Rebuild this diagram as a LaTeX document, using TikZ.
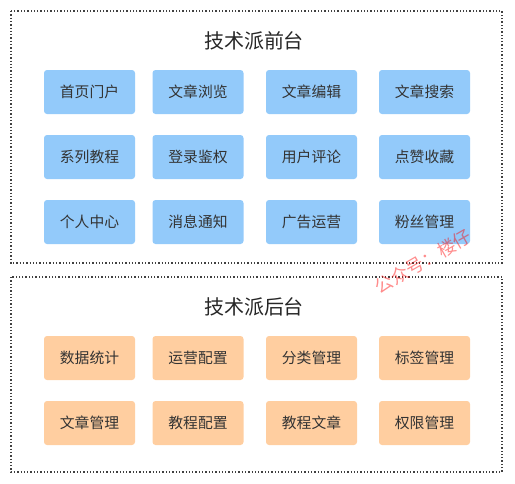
\documentclass[tikz,border=0pt]{standalone}
\usepackage{fontspec}
\setmainfont{Noto Sans CJK SC}
\begin{document}
\begin{tikzpicture}[x=1pt,y=-1pt,
  group/.style={draw=black!75,line width=1.3pt,dotted},
  item/.style={rounded corners=3pt,minimum width=91pt,minimum height=44pt,inner sep=0pt,text=black!80,font=\fontsize{14.8}{16}\selectfont},
  fe/.style={item,fill={rgb,255:red,147;green,202;blue,250}},
  be/.style={item,fill={rgb,255:red,255;green,206;blue,160}},
  ttl/.style={text=black!85,font=\fontsize{20}{22}\selectfont}]
\useasboundingbox (0,0) rectangle (515,483);
\draw[group] (11,11) rectangle (502,263);
\draw[group] (11,277) rectangle (502,472);
\node[ttl] (t1) at (254,41) {技术派前台};
\node[ttl] (t2) at (254,307) {技术派后台};
\node[fe] (a1) at (89.5,92) {首页门户};
\node[fe] (a2) at (198,92) {文章浏览};
\node[fe] (a3) at (311.5,92) {文章编辑};
\node[fe] (a4) at (424.5,92) {文章搜索};
\node[fe] (b1) at (89.5,157) {系列教程};
\node[fe] (b2) at (198,157) {登录鉴权};
\node[fe] (b3) at (311.5,157) {用户评论};
\node[fe] (b4) at (424.5,157) {点赞收藏};
\node[fe] (c1) at (89.5,222) {个人中心};
\node[fe] (c2) at (198,222) {消息通知};
\node[fe] (c3) at (311.5,222) {广告运营};
\node[fe] (c4) at (424.5,222) {粉丝管理};
\node[be] (d1) at (89.5,358) {数据统计};
\node[be] (d2) at (198,358) {运营配置};
\node[be] (d3) at (311.5,358) {分类管理};
\node[be] (d4) at (424.5,358) {标签管理};
\node[be] (e1) at (89.5,423) {文章管理};
\node[be] (e2) at (198,423) {教程配置};
\node[be] (e3) at (311.5,423) {教程文章};
\node[be] (e4) at (424.5,423) {权限管理};
\node[text=red,opacity=0.45,rotate=30,font=\fontsize{18}{20}\selectfont] (wm) at (423,262) {公众号：楼仔};
\end{tikzpicture}
\end{document}
